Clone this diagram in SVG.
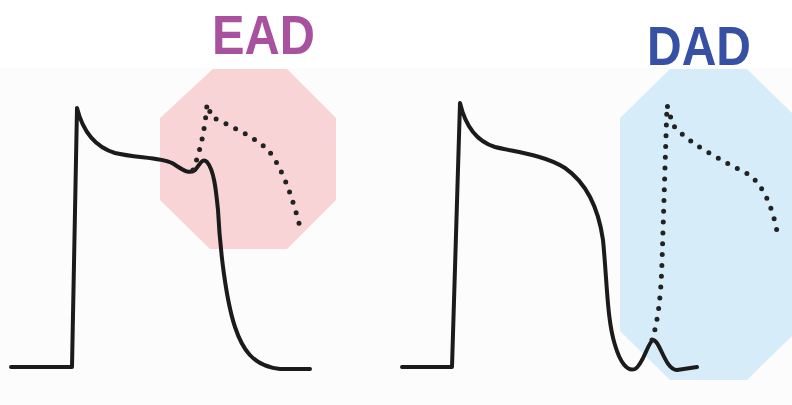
<svg xmlns="http://www.w3.org/2000/svg" width="792" height="405" viewBox="0 0 792 405">
  <style>
    .lbl { font-family: "Liberation Sans", Arial, sans-serif; font-weight: bold; font-size: 55px; }
    .trace { fill: none; stroke: #1b1b1b; stroke-width: 4; stroke-linejoin: round; stroke-linecap: round; }
    .dots { fill: none; stroke: #222; stroke-width: 5; stroke-linecap: round; stroke-dasharray: 0 10.8; }
  </style>
  <rect x="0" y="0" width="792" height="405" fill="#ffffff"/>
  <rect x="0" y="68" width="792" height="337" fill="#fcfcfc"/>

  <g id="ead-region">
    <polygon points="213,69 287,69 336,118 336,200 287,249 210,249 160,200 160,118" fill="#f9d4d7"/>
  </g>
  <g id="dad-region">
    <polygon points="670,69 747,69 797,118 797,331 747,380 670,380 620,331 620,118" fill="#d7ecf9"/>
  </g>

  <g id="ead-label">
    <text class="lbl" x="212" y="54" fill="#a8519e" textLength="103" lengthAdjust="spacingAndGlyphs">EAD</text>
  </g>
  <g id="dad-label">
    <text class="lbl" x="647" y="65" fill="#3651a3" textLength="104" lengthAdjust="spacingAndGlyphs">DAD</text>
  </g>

  <g id="ead-trace">
    <path class="trace" d="M11,367 H72 L77,108 C82,128 92,146 115,153 C135,158 160,157 172,163 C182,169 188,175 195,170 C200,165 202,157 207,162 C214,170 216,190 218,210 C220,250 226,300 235,327 C242,348 252,366 280,369 L310,369"/>
    <path class="dots" d="M193,170 C200,152 205,130 207,104 L212,117 C230,126 255,137 268,150 C283,168 293,200 300,227"/>
  </g>

  <g id="dad-trace">
    <path class="trace" d="M402,367 H452 L460,103 C464,120 472,140 495,147 C515,152 545,155 565,168 C585,182 598,205 603,240 C607,280 607,320 615,345 C620,362 627,372 635,369 C643,365 648,342 653,340 C660,340 665,370 677,370 L697,367"/>
    <path class="dots" d="M652,340 C658,322 661,295 662,262 L667,105 L673,125 C690,145 725,162 748,174 C765,185 775,215 778,238"/>
  </g>

  <g id="connectors"></g>
</svg>
